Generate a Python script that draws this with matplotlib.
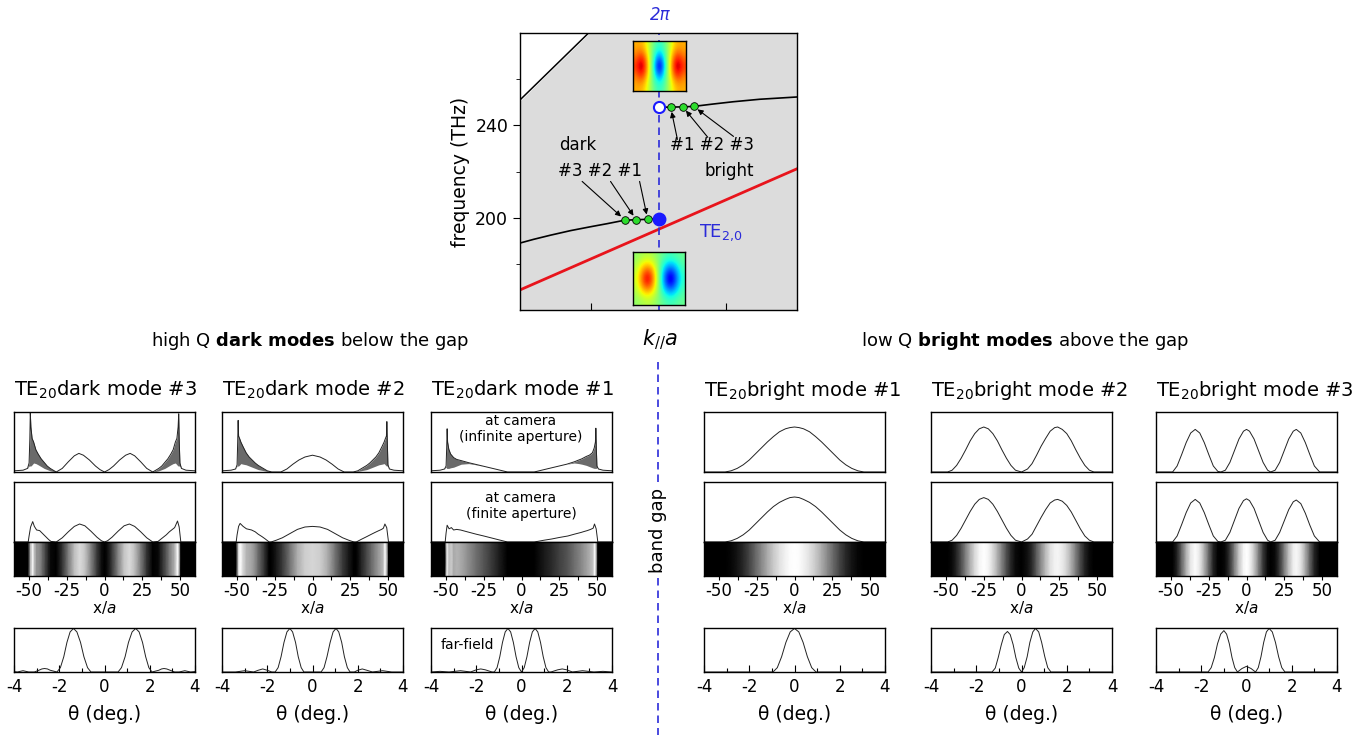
import numpy as np
import matplotlib
matplotlib.use("Agg")
import matplotlib.pyplot as plt
from matplotlib.lines import Line2D
from matplotlib.ticker import FixedLocator, MultipleLocator

plt.rcParams['font.family'] = ['DejaVu Sans']
plt.rcParams['mathtext.fontset'] = 'dejavusans'
plt.rcParams['axes.unicode_minus'] = False
plt.rcParams['axes.linewidth'] = 1.0

W, H = 1370, 735
BLUE = '#2b2bd9'

# ---------------- band diagram (k_par*a relative to 2pi, frequency THz)
band_lo_k = [-2.05, -1.85, -1.6, -1.3, -1.0, -0.76, -0.5, -0.33, -0.16, 0.0]
band_lo_f = [189.0, 190.6, 192.4, 194.4, 196.1, 197.4, 198.9, 199.1, 199.3, 199.6]
band_hi_k = [0.0, 0.18, 0.36, 0.52, 0.8, 1.1, 1.5, 2.06]
band_hi_f = [247.8, 247.9, 248.0, 248.2, 249.2, 250.2, 251.3, 252.3]
light_k = [-2.05, -1.0]
light_f = [251.0, 281.0]
te20_k = [-2.05, 2.06]
te20_f = [168.7, 221.3]
dark_k = [-0.50, -0.33, -0.16]
dark_f = [199.1, 199.1, 199.3]
bright_k = [0.18, 0.36, 0.52]
bright_f = [247.9, 248.0, 248.2]
edge_k = [0.0, 0.0]
edge_f = [199.6, 247.8]   # lower (filled) and upper (open) band edge

# field maps at the band edges
field_upper = [
    [0.45, 0.45, 0.25, -0.05, -0.20, -0.05, 0.25, 0.45, 0.45],
    [0.50, 0.60, 0.30, -0.10, -0.35, -0.10, 0.30, 0.60, 0.50],
    [0.60, 0.85, 0.40, -0.15, -0.70, -0.15, 0.40, 0.85, 0.60],
    [0.70, 1.00, 0.45, -0.20, -0.95, -0.20, 0.45, 1.00, 0.70],
    [0.60, 0.85, 0.40, -0.15, -0.70, -0.15, 0.40, 0.85, 0.60],
    [0.50, 0.60, 0.30, -0.10, -0.35, -0.10, 0.30, 0.60, 0.50],
    [0.45, 0.45, 0.25, -0.05, -0.20, -0.05, 0.25, 0.45, 0.45],
]
field_lower = [
    [0.05, 0.10, 0.15, 0.10, 0.0, -0.10, -0.15, -0.10, -0.05],
    [0.10, 0.25, 0.35, 0.25, 0.0, -0.25, -0.35, -0.25, -0.10],
    [0.15, 0.45, 0.70, 0.45, 0.0, -0.45, -0.70, -0.45, -0.15],
    [0.20, 0.55, 0.95, 0.55, 0.0, -0.55, -0.95, -0.55, -0.20],
    [0.15, 0.45, 0.70, 0.45, 0.0, -0.45, -0.70, -0.45, -0.15],
    [0.10, 0.25, 0.35, 0.25, 0.0, -0.25, -0.35, -0.25, -0.10],
    [0.05, 0.10, 0.15, 0.10, 0.0, -0.10, -0.15, -0.10, -0.05],
]

# ---------------- near-field profiles (x/a), infinite aperture: hi/lo fringe envelope
d3_x = [-60, -54, -51, -50, -49.5, -49.2, -48.8, -48, -47, -45.5, -44, -42, -40, -38, -36, -34, -32,
        -28, -24, -20, -17, -14, -10, -6, -3, 0, 3, 6, 10, 14, 17, 20, 24, 28,
        32, 34, 36, 38, 40, 42, 44, 45.5, 47, 48, 48.8, 49.2, 49.5, 50, 51, 54, 60]
d3_hi = [0.02, 0.03, 0.06, 0.15, 0.55, 0.99, 0.75, 0.56, 0.5, 0.37, 0.3, 0.22, 0.16, 0.1, 0.06, 0.03, 0.0,
         0.06, 0.17, 0.27, 0.31, 0.28, 0.2, 0.1, 0.04, 0.0, 0.04, 0.1, 0.2, 0.28, 0.31, 0.27, 0.17, 0.06,
         0.0, 0.03, 0.06, 0.1, 0.16, 0.22, 0.3, 0.37, 0.5, 0.56, 0.75, 0.97, 0.55, 0.15, 0.06, 0.03, 0.02]
d3_lo = [0.02, 0.03, 0.06, 0.1, 0.1, 0.1, 0.1, 0.12, 0.15, 0.14, 0.12, 0.09, 0.06, 0.04, 0.02, 0.01, 0.0,
         0.06, 0.17, 0.27, 0.31, 0.28, 0.2, 0.1, 0.04, 0.0, 0.04, 0.1, 0.2, 0.28, 0.31, 0.27, 0.17, 0.06,
         0.0, 0.01, 0.02, 0.04, 0.06, 0.09, 0.12, 0.14, 0.15, 0.12, 0.1, 0.1, 0.1, 0.1, 0.06, 0.03, 0.02]

d2_x = [-60, -54, -51, -50, -49.6, -49.3, -49.0, -48.2, -47.5, -46, -44, -42, -40, -38, -36, -34, -32, -30, -27,
        -21, -17, -13, -9, -5, 0, 5, 9, 13, 17, 21,
        27, 30, 32, 34, 36, 38, 40, 42, 44, 46, 47.5, 48.2, 49.0, 49.3, 49.6, 50, 51, 54, 60]
d2_hi = [0.02, 0.03, 0.05, 0.12, 0.5, 0.86, 0.6, 0.55, 0.5, 0.42, 0.32, 0.25, 0.2, 0.15, 0.11, 0.08, 0.05, 0.02, 0.0,
         0.0, 0.05, 0.13, 0.2, 0.25, 0.28, 0.25, 0.2, 0.13, 0.05, 0.0,
         0.0, 0.02, 0.05, 0.08, 0.11, 0.15, 0.2, 0.25, 0.32, 0.42, 0.5, 0.55, 0.6, 0.84, 0.5, 0.12, 0.05, 0.03, 0.02]
d2_lo = [0.02, 0.03, 0.05, 0.1, 0.1, 0.1, 0.1, 0.12, 0.14, 0.13, 0.12, 0.1, 0.08, 0.06, 0.04, 0.03, 0.02, 0.01, 0.0,
         0.0, 0.05, 0.13, 0.2, 0.25, 0.28, 0.25, 0.2, 0.13, 0.05, 0.0,
         0.0, 0.01, 0.02, 0.03, 0.04, 0.06, 0.08, 0.1, 0.12, 0.13, 0.14, 0.12, 0.1, 0.1, 0.1, 0.1, 0.05, 0.03, 0.02]

d1_x = [-60, -54, -51, -50, -49.6, -49.3, -49.0, -48.2, -47, -45, -43, -40, -35, -30, -25, -20, -15, -9.3,
        0,
        8.4, 15, 20, 25, 30, 35, 38, 40, 43, 45, 47, 48.2, 49.0, 49.3, 49.6, 50, 51, 54, 60]
d1_hi = [0.02, 0.03, 0.05, 0.1, 0.4, 0.72, 0.5, 0.38, 0.3, 0.24, 0.21, 0.19, 0.155, 0.125, 0.095, 0.065, 0.035, 0.0,
         0.0,
         0.0, 0.04, 0.07, 0.1, 0.13, 0.17, 0.2, 0.22, 0.26, 0.28, 0.32, 0.4, 0.5, 0.73, 0.4, 0.1, 0.05, 0.03, 0.02]
d1_lo = [0.02, 0.03, 0.05, 0.08, 0.06, 0.06, 0.06, 0.06, 0.07, 0.08, 0.1, 0.13, 0.14, 0.12, 0.095, 0.065, 0.035, 0.0,
         0.0,
         0.0, 0.04, 0.07, 0.1, 0.13, 0.15, 0.14, 0.13, 0.11, 0.09, 0.07, 0.06, 0.06, 0.06, 0.06, 0.08, 0.05, 0.03, 0.02]

# finite aperture profiles (also give the camera strip)
d3f_x = [-60, -50.6, -50, -49, -47.6, -46.5, -45, -43, -41, -39, -37, -35.5, -32, -28, -24, -20, -16.5, -13, -9,
         -5, -2, 0, 2, 5, 9, 13, 16.5, 20, 24, 28, 32, 35.5, 37, 39, 41, 43, 45, 46.5, 48.4, 49.5, 50.6, 60]
d3f_y = [0, 0, 0.1, 0.25, 0.34, 0.26, 0.2, 0.19, 0.14, 0.09, 0.04, 0.01, 0.0, 0.07, 0.17, 0.26, 0.3, 0.27, 0.18,
         0.08, 0.02, 0.0, 0.02, 0.08, 0.18, 0.27, 0.3, 0.26, 0.17, 0.07, 0.0, 0.01, 0.04, 0.08, 0.12, 0.17, 0.21,
         0.24, 0.35, 0.25, 0, 0]
d2f_x = [-60, -50.6, -50, -49, -48, -46, -43.8, -40.4, -38, -36, -33.5, -31.6, -28.7, -27.5, -24, -20, -15, -10, -5,
         0, 5, 10, 15, 20, 24, 27.5, 29, 32.4, 36, 39.1, 41.5, 43.6, 45.8, 47, 48, 49.2, 50.4, 60]
d2f_y = [0, 0, 0.12, 0.26, 0.31, 0.26, 0.22, 0.2, 0.17, 0.13, 0.09, 0.056, 0.0, 0.0, 0.03, 0.07, 0.14, 0.21, 0.25,
         0.26, 0.25, 0.21, 0.14, 0.07, 0.03, 0.0, 0.0, 0.045, 0.09, 0.13, 0.16, 0.185, 0.21, 0.23, 0.3, 0.24, 0, 0]
d1f_x = [-60, -50.6, -50, -49.3, -48, -46.5, -45, -43, -40.4, -36, -30, -25, -20, -15, -9.3, 0, 8.4, 15, 20, 25,
         30.7, 35, 39.6, 41.5, 43.6, 45.8, 47.5, 48.4, 49.5, 50.6, 60]
d1f_y = [0, 0, 0.15, 0.28, 0.22, 0.24, 0.2, 0.21, 0.2, 0.17, 0.13, 0.1, 0.068, 0.036, 0.0, 0.0, 0.0, 0.03, 0.05,
         0.075, 0.1, 0.13, 0.16, 0.175, 0.19, 0.21, 0.23, 0.3, 0.22, 0, 0]

b1_x = [-60, -46, -42, -38, -34, -30, -26, -22, -18, -14, -10, -6, -3, 0, 3, 6, 10, 14, 18, 22, 26, 30, 34, 38,
        42, 46, 60]
b1_top = [0, 0, 0.02, 0.06, 0.12, 0.2, 0.3, 0.4, 0.5, 0.59, 0.67, 0.72, 0.74, 0.75, 0.74, 0.72, 0.67, 0.59, 0.5,
          0.4, 0.3, 0.2, 0.12, 0.06, 0.02, 0, 0]
b1_fin = [0, 0, 0.02, 0.06, 0.12, 0.2, 0.3, 0.4, 0.5, 0.59, 0.66, 0.71, 0.74, 0.75, 0.74, 0.71, 0.66, 0.59, 0.5,
          0.4, 0.3, 0.2, 0.12, 0.06, 0.02, 0, 0]
b2_x = [-60, -49, -46, -43, -40, -37, -34, -31, -28, -25, -22, -19, -16, -13, -10, -7, -4, 0, 4, 7, 10, 13, 16,
        19, 22, 24, 27, 30, 33, 36, 39, 42, 45, 48, 60]
b2_top = [0, 0, 0.03, 0.11, 0.23, 0.37, 0.52, 0.64, 0.72, 0.75, 0.72, 0.64, 0.52, 0.37, 0.23, 0.11, 0.03, 0,
          0.05, 0.14, 0.28, 0.43, 0.56, 0.68, 0.74, 0.75, 0.71, 0.64, 0.52, 0.37, 0.23, 0.11, 0.03, 0, 0]
b2_fin = [0, 0, 0.03, 0.11, 0.23, 0.37, 0.51, 0.63, 0.71, 0.74, 0.71, 0.63, 0.51, 0.37, 0.23, 0.11, 0.03, 0,
          0.05, 0.13, 0.27, 0.41, 0.54, 0.65, 0.7, 0.71, 0.68, 0.61, 0.5, 0.36, 0.22, 0.1, 0.03, 0, 0]
b3_x = [-60, -49, -46, -43, -40, -37, -34, -31, -28, -25, -22, -19, -17, -14, -11, -8, -5, -2, 0, 2, 5, 8, 11,
        14, 16, 19, 22, 25, 28, 31, 33, 36, 39, 42, 45, 48.5, 60]
b3_top = [0, 0, 0.1, 0.29, 0.49, 0.65, 0.71, 0.65, 0.49, 0.29, 0.1, 0.01, 0, 0.03, 0.16, 0.355, 0.55, 0.68, 0.71,
          0.68, 0.55, 0.355, 0.16, 0.03, 0, 0.03, 0.16, 0.355, 0.55, 0.68, 0.71, 0.65, 0.49, 0.29, 0.1, 0, 0]
b3_fin = [0, 0, 0.1, 0.29, 0.49, 0.65, 0.71, 0.65, 0.49, 0.29, 0.1, 0.01, 0, 0.03, 0.16, 0.36, 0.56, 0.69, 0.72,
          0.69, 0.56, 0.36, 0.16, 0.03, 0, 0.03, 0.16, 0.35, 0.54, 0.67, 0.7, 0.64, 0.48, 0.28, 0.1, 0, 0]

# ---------------- far-field profiles (theta, deg.)
ffd3_x = [-4, -3.85, -3.6, -3.35, -3.1, -2.9, -2.77, -2.65, -2.52, -2.4,
          -2.1, -1.95, -1.8, -1.66, -1.52, -1.37, -1.22, -1.06, -0.91, -0.75, -0.6,
          0,
          0.6, 0.75, 0.91, 1.06, 1.22, 1.38, 1.53, 1.68, 1.82, 1.96, 2.1,
          2.4, 2.52, 2.63, 2.75, 2.9, 3.1, 3.3, 3.55, 3.8, 4]
ffd3_y = [0.01, 0.0, 0.03, 0.0, 0.0, 0.04, 0.07, 0.08, 0.07, 0.04,
          0, 0.1, 0.35, 0.68, 0.92, 1.0, 0.92, 0.68, 0.35, 0.1, 0,
          0,
          0, 0.1, 0.35, 0.68, 0.92, 1.0, 0.92, 0.68, 0.35, 0.1, 0,
          0.04, 0.07, 0.08, 0.07, 0.04, 0.0, 0.0, 0.03, 0.0, 0.01]
ffd2_x = [-4, -3.4, -3.0, -2.6, -2.4, -2.2, -2.0, -1.8,
          -1.65, -1.52, -1.39, -1.26, -1.13, -1.0, -0.88, -0.75, -0.63, -0.5, -0.38,
          0,
          0.38, 0.51, 0.64, 0.78, 0.91, 1.04, 1.16, 1.29, 1.41, 1.54, 1.66,
          1.85, 2.0, 2.2, 2.4, 2.65, 3.1, 3.5, 4]
ffd2_y = [0, 0, 0.03, 0, 0.04, 0.07, 0.04, 0,
          0, 0.1, 0.35, 0.68, 0.92, 1.0, 0.92, 0.68, 0.35, 0.1, 0,
          0,
          0, 0.1, 0.35, 0.68, 0.92, 1.0, 0.92, 0.68, 0.35, 0.1, 0,
          0, 0.04, 0.07, 0.04, 0, 0.03, 0, 0]
ffd1_x = [-4, -3.6, -3.2, -2.7, -2.25, -2.0, -1.8, -1.6, -1.3,
          -1.2, -1.08, -0.96, -0.84, -0.72, -0.6, -0.48, -0.36, -0.24, -0.12,
          0,
          0.12, 0.24, 0.36, 0.48, 0.6, 0.72, 0.84, 0.96, 1.08, 1.2,
          1.3, 1.6, 1.8, 2.0, 2.25, 2.7, 3.2, 3.6, 4]
ffd1_y = [0, 0.015, 0, 0.03, 0, 0.05, 0.07, 0.05, 0,
          0, 0.1, 0.35, 0.68, 0.92, 1.0, 0.92, 0.68, 0.35, 0.1,
          0,
          0.1, 0.35, 0.68, 0.92, 1.0, 0.92, 0.68, 0.35, 0.1, 0,
          0, 0.05, 0.07, 0.05, 0, 0.03, 0, 0.015, 0]
ffb1_x = [-4, -0.95, -0.76, -0.57, -0.38, -0.19, 0, 0.19, 0.38, 0.57, 0.76, 0.95, 4]
ffb1_y = [0, 0, 0.1, 0.35, 0.68, 0.92, 1.0, 0.92, 0.68, 0.35, 0.1, 0, 0]
ffb2_x = [-4, -1.3, -1.16, -1.03, -0.89, -0.76, -0.62, -0.5, -0.37, -0.25, -0.12,
          0,
          0.12, 0.25, 0.37, 0.5, 0.62, 0.76, 0.89, 1.03, 1.16, 1.3, 4]
ffb2_y = [0, 0, 0.09, 0.33, 0.63, 0.86, 0.93, 0.86, 0.63, 0.33, 0.09,
          0,
          0.1, 0.35, 0.68, 0.92, 1.0, 0.92, 0.68, 0.35, 0.1, 0, 0]
ffb3_x = [-4, -1.7, -1.56, -1.42, -1.28, -1.14, -1.0, -0.88, -0.76, -0.64, -0.52,
          -0.4, -0.2, 0, 0.2,
          0.4, 0.52, 0.64, 0.76, 0.88, 1.0, 1.14, 1.28, 1.42, 1.56, 1.7, 4]
ffb3_y = [0, 0, 0.1, 0.33, 0.65, 0.87, 0.95, 0.87, 0.65, 0.33, 0.1,
          0, 0.08, 0.13, 0.08,
          0, 0.1, 0.35, 0.68, 0.92, 1.0, 0.92, 0.68, 0.35, 0.1, 0, 0]

titles = ['dark mode #3', 'dark mode #2', 'dark mode #1',
          'bright mode #1', 'bright mode #2', 'bright mode #3']
x_ticks = [-50, -25, 0, 25, 50]
theta_ticks = [-4, -2, 0, 2, 4]


def px_rect(x0, y0, x1, y1):
    """pixel box (from top-left) -> figure fraction rect"""
    return [x0 / W, 1 - y1 / H, (x1 - x0) / W, (y1 - y0) / H]


fig = plt.figure(figsize=(W / 100, H / 100), dpi=100)

# ---------------- band diagram
bax = fig.add_axes(px_rect(520, 33, 797, 310))
bax.set_facecolor('#dcdcdc')
bax.fill_between(light_k, light_f, 300, color='white', zorder=1)
bax.plot(light_k, light_f, color='k', lw=1.1, zorder=2)
bax.plot(te20_k, te20_f, color='#e8141c', lw=2.0, zorder=2)
bax.plot(band_lo_k, band_lo_f, color='k', lw=1.2, zorder=3)
bax.plot(band_hi_k, band_hi_f, color='k', lw=1.2, zorder=3)
bax.axvline(0, color=BLUE, ls=(0, (4.5, 3)), lw=1.2, zorder=2.5)
bax.plot(dark_k, dark_f, 'o', ms=5.5, mfc='#2ddc2d', mec='k', mew=0.6, zorder=5)
bax.plot(bright_k, bright_f, 'o', ms=5.5, mfc='#2ddc2d', mec='k', mew=0.6, zorder=5)
bax.plot(edge_k[0], edge_f[0], 'o', ms=9, mfc='#1a1aff', mec='#1a1aff', zorder=6)
bax.plot(edge_k[1], edge_f[1], 'o', ms=8, mfc='white', mec='#1a1aff', mew=1.5, zorder=6)
bax.set_xlim(-2.05, 2.05)
bax.set_ylim(160, 280)
bax.yaxis.set_major_locator(FixedLocator([200, 240]))
bax.yaxis.set_minor_locator(FixedLocator([180, 220, 260]))
bax.xaxis.set_major_locator(FixedLocator([-1, 1]))
bax.tick_params(axis='y', which='major', direction='out', length=5, labelsize=12.5)
bax.tick_params(axis='y', which='minor', direction='out', length=3)
bax.tick_params(axis='x', which='major', direction='in', length=5, labelbottom=False)
bax.set_ylabel('frequency (THz)', fontsize=13.5, labelpad=4)

arrow = dict(arrowstyle='-|>', color='k', lw=0.8, mutation_scale=8, shrinkA=0, shrinkB=3.5)
for tail, k, f in zip([(-1.13, 215.7), (-0.71, 215.7), (-0.28, 215.7)], dark_k, dark_f):
    bax.annotate('', xy=(k, f), xytext=tail, arrowprops=arrow, zorder=4)
for tail, k, f in zip([(0.28, 233.9), (0.73, 234.8), (1.11, 235.2)], bright_k, bright_f):
    bax.annotate('', xy=(k, f), xytext=tail, arrowprops=arrow, zorder=4)
bax.text(-1.2, 231.3, 'dark', fontsize=12, ha='center', va='center')
bax.text(-0.86, 220.0, '#3 #2 #1', fontsize=12, ha='center', va='center')
bax.text(0.79, 231.3, '#1 #2 #3', fontsize=12, ha='center', va='center')
bax.text(1.05, 220.0, 'bright', fontsize=12, ha='center', va='center')
bax.text(0.6, 193.5, r'TE$_{2{,}0}$', fontsize=13, color=BLUE, ha='left', va='center')

for data, box in [(field_upper, (633, 41, 686, 91)), (field_lower, (633, 252, 685, 305))]:
    iax = fig.add_axes(px_rect(*box))
    iax.imshow(np.array(data), cmap='jet', vmin=-1, vmax=1, interpolation='bicubic',
               aspect='auto', extent=[0, 1, 0, 1])
    iax.set_xticks([])
    iax.set_yticks([])

fig.text(660 / W, 1 - 15 / H, '2π', color=BLUE, fontsize=12, style='italic', ha='center', va='center')
fig.text(660 / W, 1 - 340 / H, r'$k_{//}a$', fontsize=15, ha='center', va='center')
fig.text(658 / W, 1 - 530 / H, 'band gap', fontsize=13, rotation=90, ha='center', va='center')
for y0, y1 in [(362, 484), (578, 735)]:
    fig.add_artist(Line2D([658 / W, 658 / W], [1 - y0 / H, 1 - y1 / H], color=BLUE,
                          ls=(0, (4.5, 3)), lw=1.2))

fig.text(310 / W, 1 - 341 / H, r'high Q $\mathbf{dark\ modes}$ below the gap',
         fontsize=13, ha='center', va='center')
fig.text(1025 / W, 1 - 341 / H, r'low Q $\mathbf{bright\ modes}$ above the gap',
         fontsize=13, ha='center', va='center')

# ---------------- mode columns
columns = [
    (d3_x, d3_hi, d3_lo, d3f_x, d3f_y, ffd3_x, ffd3_y),
    (d2_x, d2_hi, d2_lo, d2f_x, d2f_y, ffd2_x, ffd2_y),
    (d1_x, d1_hi, d1_lo, d1f_x, d1f_y, ffd1_x, ffd1_y),
    (b1_x, b1_top, b1_top, b1_x, b1_fin, ffb1_x, ffb1_y),
    (b2_x, b2_top, b2_top, b2_x, b2_fin, ffb2_x, ffb2_y),
    (b3_x, b3_top, b3_top, b3_x, b3_fin, ffb3_x, ffb3_y),
]
col_left = [14, 222, 431, 704, 931, 1156]
col_w = 181
line_kw = dict(color='#222222', lw=0.7)

for i, (tx, thi, tlo, fx, fy, gx, gy) in enumerate(columns):
    x0 = col_left[i]
    x1 = x0 + col_w
    fig.text(x0 / W, 1 - 390 / H, 'TE$_{20}$' + titles[i], fontsize=14, ha='left', va='center')

    # infinite aperture
    ax = fig.add_axes(px_rect(x0, 412, x1, 472))
    ax.fill_between(tx, tlo, thi, color='#6a6a6a', lw=0)
    ax.plot(tx, thi, **line_kw)
    ax.set_xlim(-60, 60)
    ax.set_ylim(0, 1.0)
    ax.set_xticks([])
    ax.set_yticks([])

    # finite aperture
    ax = fig.add_axes(px_rect(x0, 482, x1, 542))
    ax.plot(fx, fy, **line_kw)
    ax.set_xlim(-60, 60)
    ax.set_ylim(0, 1.0)
    ax.set_xticks([])
    ax.set_yticks([])

    # camera strip
    sax = fig.add_axes(px_rect(x0, 542, x1, 576))
    sax.set_facecolor('black')
    vals = np.array(fy) / max(fy)
    xs = np.array([fx, fx], dtype=float)
    ys = np.array([np.zeros(len(fx)), np.ones(len(fx))])
    sax.pcolormesh(xs, ys, np.array([vals, vals]), shading='gouraud', cmap='gray', vmin=0, vmax=1)
    sax.set_xlim(-60, 60)
    sax.set_ylim(0, 1)
    sax.set_yticks([])
    sax.xaxis.set_major_locator(FixedLocator(x_ticks))
    sax.xaxis.set_minor_locator(MultipleLocator(12.5))
    sax.tick_params(axis='x', which='both', direction='out', length=3, width=0.8, labelsize=12, pad=1.5)
    sax.set_xlabel(r'x/$a$', fontsize=11, labelpad=-1)

    # far field
    fax = fig.add_axes(px_rect(x0, 628, x1, 672))
    fax.plot(gx, gy, **line_kw)
    fax.set_xlim(-4, 4)
    fax.set_ylim(0, 1.01)
    fax.set_yticks([])
    fax.xaxis.set_major_locator(FixedLocator(theta_ticks))
    fax.xaxis.set_minor_locator(MultipleLocator(1))
    fax.tick_params(axis='x', which='major', direction='in', length=5, width=0.8, labelsize=12, pad=4)
    fax.tick_params(axis='x', which='minor', direction='in', length=3, width=0.8)
    fax.set_xlabel('θ (deg.)', fontsize=13.5, labelpad=7)

    if i == 2:
        fig.text(521 / W, 1 - 429 / H, 'at camera\n(infinite aperture)', fontsize=10,
                 ha='center', va='center', linespacing=1.1)
        fig.text(521 / W, 1 - 506 / H, 'at camera\n(finite aperture)', fontsize=10,
                 ha='center', va='center', linespacing=1.1)
        fig.text(441 / W, 1 - 645 / H, 'far-field', fontsize=10, ha='left', va='center')

fig.savefig('out.png', dpi=100)
